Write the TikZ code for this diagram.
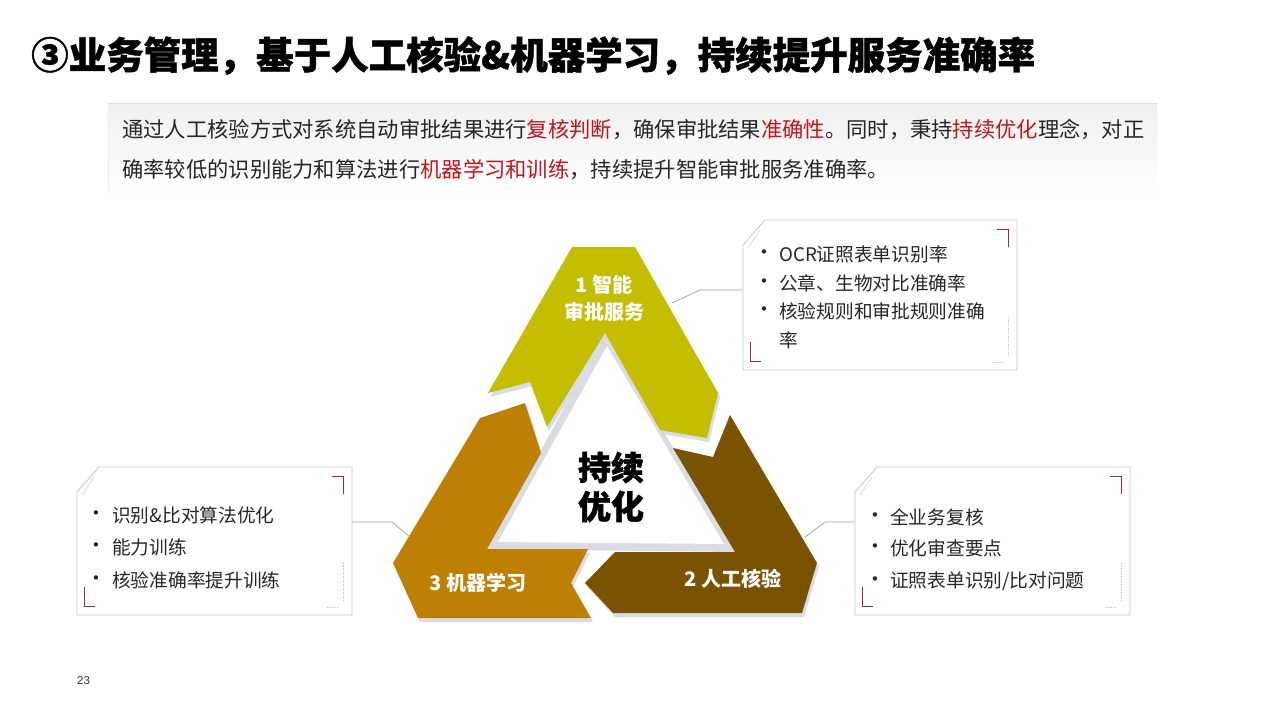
\documentclass[tikz,border=0pt]{standalone}
\usepackage{fontspec}
\setmainfont{Noto Sans CJK SC}
\newfontfamily\titlefont{Noto Sans CJK SC}[BoldFeatures={FakeBold=1.2}]
\newfontfamily\dejavu{DejaVu Sans}
\newfontfamily\arialf{Liberation Sans}
\definecolor{cA}{HTML}{C4BD00}
\definecolor{cB}{HTML}{7A5300}
\definecolor{cC}{HTML}{BE8003}
\definecolor{shd}{HTML}{D9DCE3}
\definecolor{redm}{HTML}{9E2A3B}
\definecolor{redt}{HTML}{C0141E}
\definecolor{txt}{HTML}{262626}
\definecolor{bord}{HTML}{C9C9C9}
\definecolor{connc}{HTML}{A5A5A5}
\newcommand\mycallout[5]{%
  \node[inner sep=0, minimum width={#4-#2}, minimum height={#5-#3}] (#1) at ({(#2+#4)/2},{(#3+#5)/2}) {};
  \path[fill=white, draw=bord, line width=0.9pt] (#2+22,#3) -- (#4,#3) -- (#4,#5) -- (#2,#5) -- (#2,#3+25) -- cycle;
  \draw[redm, line width=0.9pt] (#4-20,#3+9) -- (#4-9,#3+9) -- (#4-9,#3+27);
  \draw[redm, line width=0.9pt] (#2+7,#5-28) -- (#2+7,#5-9) -- (#2+18,#5-9);
  \draw[bord, line width=0.6pt, densely dotted] (#4-9,#5-52) -- (#4-9,#5-15);
  \draw[bord, line width=0.6pt, densely dotted] (#4-25,#5-8) -- (#4-14,#5-8);
  \draw[bord, line width=0.5pt] (#2+5,#3+28) -- (#2+17,#3+10);
}
\tikzset{
  pshadow/.style={fill=shd},
  plabel/.style={text=white, align=center, inner sep=0, font=\fontsize{20}{27}\selectfont\bfseries},
  itemtext/.style={anchor=west, inner sep=0, text=txt, font=\fontsize{18.7}{22}\selectfont},
  bul/.style={inner sep=0, text=txt, font=\dejavu\fontsize{15}{17}\selectfont},
  conn/.style={draw=connc, line width=0.8pt},
}
\begin{document}
\begin{tikzpicture}[x=1pt,y=-1pt]
\useasboundingbox (0,0) rectangle (1280,720);
\fill[white] (0,0) rectangle (1280,720);

% title
\node[anchor=base west, inner sep=0, text=black, font=\titlefont\fontsize{37.5}{40}\selectfont\bfseries] (title) at (31,69) {③业务管理，基于人工核验\&机器学习，持续提升服务准确率};

% header text box
\shade[top color=black!6, bottom color=white] (108,103) rectangle (1157,198);
\draw[black!14, line width=0.8pt] (108,103) -- (1157,103);
\draw[black!7, line width=0.6pt] (108,103) -- (108,190);
\node[anchor=west, inner sep=0, text=txt, font=\fontsize{21.3}{24}\selectfont] (l1) at (122,130) {通过人工核验方式对系统自动审批结果进行\textcolor{redt}{复核判断}，确保审批结果\textcolor{redt}{准确性}。同时，秉持\textcolor{redt}{持续优化}理念，对正};
\node[anchor=west, inner sep=0, text=txt, font=\fontsize{21.3}{24}\selectfont] (l2) at (122,170) {确率较低的识别能力和算法进行\textcolor{redt}{机器学习和训练}，持续提升智能审批服务准确率。};

% inner triangle
\fill[shd] (605,333) -- (487,549) -- (735,552) -- cycle;
\fill[white] (607,346) -- (498,542) -- (724,544) -- cycle;

% piece shadows
\begin{scope}[shift={(2,4)}]
\fill[pshadow] (572,247) -- (635,247) -- (718,393) -- (707,438) -- (660,430) -- (605,333) -- (547,427) -- (530,382) -- (488,393) -- cycle;
\fill[pshadow] (673,448) -- (713,457) -- (730,415) -- (817,563) -- (802,613) -- (613,613) -- (585,583) -- (615,552) -- (735,552) -- cycle;
\fill[pshadow] (480,418) -- (525,403) -- (541,453) -- (487,549) -- (588,549) -- (571,583) -- (591,618) -- (418,618) -- (393,563) -- cycle;
\end{scope}

% pieces
\fill[cA] (572,247) -- (635,247) -- (718,393) -- (707,438) -- (660,430) -- (605,333) -- (547,427) -- (530,382) -- (488,393) -- cycle;
\fill[cB] (673,448) -- (713,457) -- (730,415) -- (817,563) -- (802,613) -- (613,613) -- (585,583) -- (615,552) -- (735,552) -- cycle;
\fill[cC] (480,418) -- (525,403) -- (541,453) -- (487,549) -- (588,549) -- (571,583) -- (591,618) -- (418,618) -- (393,563) -- cycle;

% piece labels
\node[plabel] (lab1) at (604,298) {1 智能\\审批服务};
\node[plabel] (lab3) at (478,583) {3 机器学习};
\node[plabel] (lab2) at (733,579) {2 人工核验};
\node[inner sep=0, align=center, text=black, font=\titlefont\fontsize{33}{39}\selectfont\bfseries] (center) at (611,487) {持续\\优化};

% callout boxes
\mycallout{box1}{743}{220}{1017}{370}
\mycallout{box3}{77}{467}{352}{615}
\mycallout{box2}{855}{467}{1130}{615}

% connectors
\coordinate (p1) at (672,303);
\coordinate (k1) at (700,290);
\draw[conn] (p1) -- (k1) -- (box1.west |- k1);
\coordinate (p3) at (410,537);
\coordinate (k3) at (392,522);
\draw[conn] (p3) -- (k3) -- (box3.east |- k3);
\coordinate (p2) at (805,537);
\coordinate (k2) at (825,522);
\draw[conn] (p2) -- (k2) -- (box2.west |- k2);

% box1 items
\node[bul] (b1a) at (764,254) {•};
\node[itemtext] (t1a) at (779,254) {OCR证照表单识别率};
\node[bul] (b1b) at (764,283) {•};
\node[itemtext] (t1b) at (779,283) {公章、生物对比准确率};
\node[bul] (b1c) at (764,311) {•};
\node[itemtext] (t1c) at (779,311) {核验规则和审批规则准确};
\node[itemtext] (t1d) at (779,340) {率};

% box3 items
\node[bul] (b3a) at (96,515) {•};
\node[itemtext] (t3a) at (112,515) {识别\&比对算法优化};
\node[bul] (b3b) at (96,547) {•};
\node[itemtext] (t3b) at (112,547) {能力训练};
\node[bul] (b3c) at (96,580) {•};
\node[itemtext] (t3c) at (112,580) {核验准确率提升训练};

% box2 items
\node[bul] (b2a) at (875,517) {•};
\node[itemtext] (t2a) at (890,517) {全业务复核};
\node[bul] (b2b) at (875,548) {•};
\node[itemtext] (t2b) at (890,548) {优化审查要点};
\node[bul] (b2c) at (875,581) {•};
\node[itemtext] (t2c) at (890,581) {证照表单识别/比对问题};

% page number
\node[anchor=west, inner sep=0, text=black!80, font=\arialf\fontsize{11.5}{13}\selectfont] (pg) at (77,681) {23};
\end{tikzpicture}
\end{document}
